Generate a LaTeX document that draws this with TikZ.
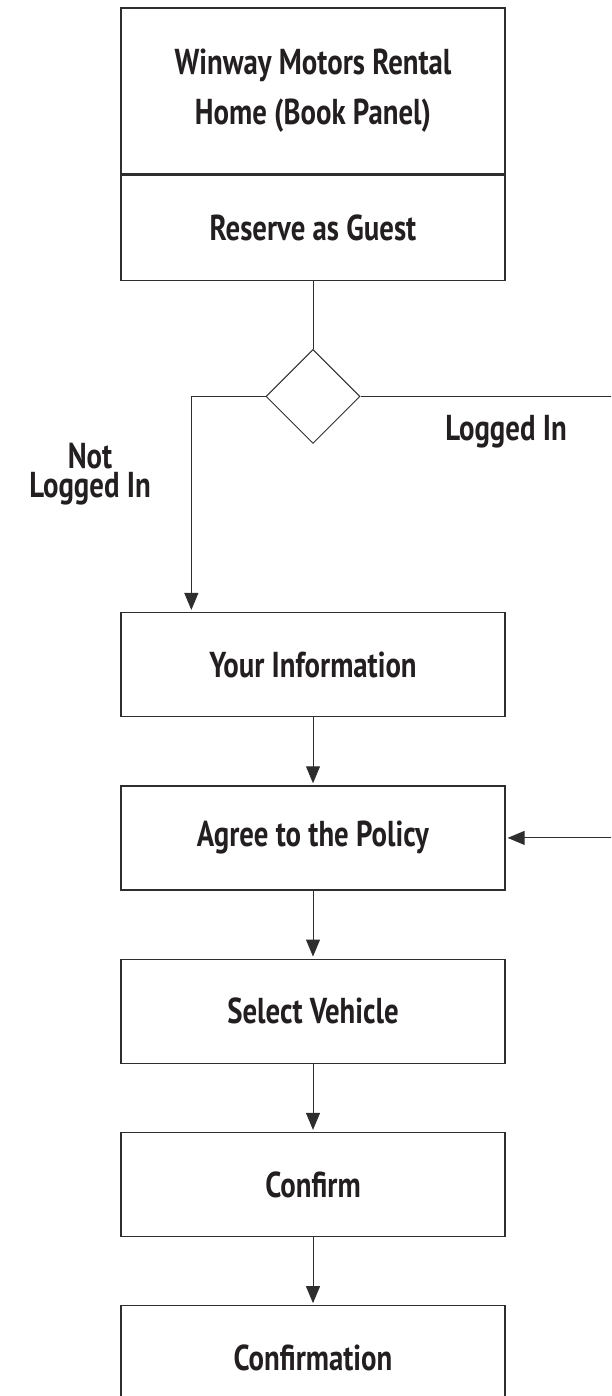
\documentclass[tikz,border=0pt]{standalone}
\usepackage{fontspec}
\newfontfamily\flowfont{PT Sans}[FakeStretch=0.8]
\usetikzlibrary{positioning, shapes.geometric, arrows.meta}
\definecolor{ink}{HTML}{231F20}
\definecolor{wire}{HTML}{2E2E2E}

\begin{document}
\begin{tikzpicture}[x=1pt, y=-1pt, node distance=68pt,
	font=\flowfont\bfseries\fontsize{36}{50}\selectfont,
	stepbox/.style={draw=wire, line width=1.3pt, minimum width=384pt, minimum height=104pt, text=ink, align=center, inner sep=0pt},
	choice/.style={draw=wire, line width=1pt, diamond, minimum size=94pt, inner sep=0pt},
	flow/.style={draw=wire, line width=1pt, -{Triangle[length=17pt,width=14pt]}, shorten >=2pt},
	lbl/.style={text=ink, align=center, font=\flowfont\bfseries\fontsize{36}{29}\selectfont}]
	\useasboundingbox (0,0) rectangle (611,1396);
	\clip (0,0) rectangle (611,1396);
	
	\node[stepbox, minimum height=166pt] (home) at (313,91) {Winway Motors Rental\\Home (Book Panel)};
	\node[stepbox, minimum height=105pt, below=0pt of home] (guest) {Reserve as Guest};
	\node[choice, below=of guest] (check) {};
	\node[stepbox, below=168pt of check] (info) {Your Information};
	\node[stepbox, below=of info] (policy) {Agree to the Policy};
	\node[stepbox, below=of policy] (vehicle) {Select Vehicle};
	\node[stepbox, below=of vehicle] (confirm) {Confirm};
	\node[stepbox, below=of confirm] (done) {Confirmation};
	
	\node[lbl] (nolog) at (90,474) {Not\\Logged In};
	\node[lbl] (yeslog) at (506,432) {Logged In};
	
	\coordinate (drop) at ([xshift=71pt]info.north west);
	\coordinate (loop) at (640,0);
	
	\draw[wire, line width=1pt] (guest) -- (check);
	\draw[flow] (check.west) -| (drop);
	\draw[flow] (check.east) -| (loop |- policy.east) -- (policy.east);
	\draw[flow] (info) -- (policy);
	\draw[flow] (policy) -- (vehicle);
	\draw[flow] (vehicle) -- (confirm);
	\draw[flow] (confirm) -- (done);
\end{tikzpicture}
\end{document}
